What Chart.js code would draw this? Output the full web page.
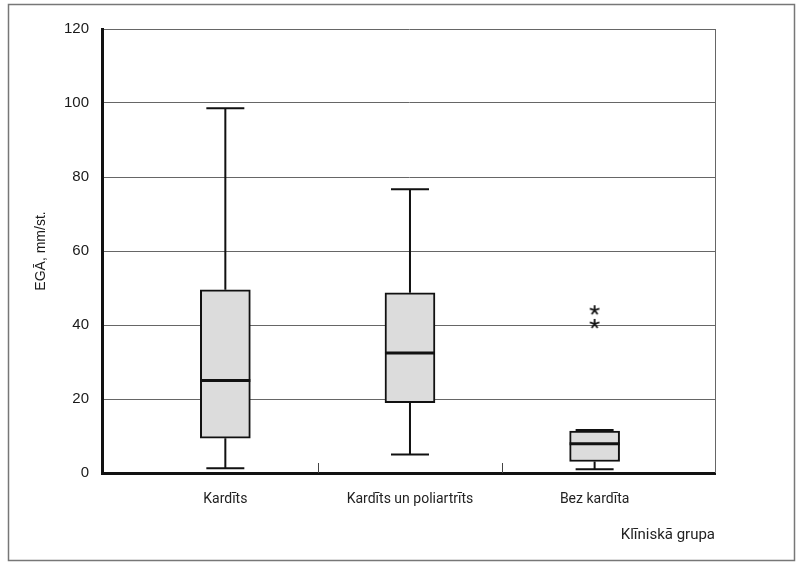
<!DOCTYPE html>
<html>
<head>
<meta charset="utf-8">
<script src="https://cdn.jsdelivr.net/npm/chart.js@4.4.1/dist/chart.umd.min.js"></script>
<style>
  html, body { margin: 0; padding: 0; background: #fff; }
  #wrap { width: 800px; height: 563px; }
</style>
</head>
<body>
<div id="wrap"><canvas id="boxChart" width="800" height="563"></canvas></div>
<script>
// data
const categories = ["Kardīts", "Kardīts un poliartrīts", "Bez kardīta"];
const whiskerLow = [1.3, 5, 1];
const q1 = [9.4, 19, 3.1];
const median = [25, 32.4, 7.9];
const q3 = [49.5, 48.7, 11.3];
const whiskerHigh = [98.6, 76.7, 11.6];
const outlierGroup = [3, 3];
const outlierValue = [44, 40.3];
const yTicks = [0, 20, 40, 60, 80, 100, 120];

// asterisk marker for outliers
function makeAsterisk() {
  const c = document.createElement("canvas");
  c.width = 14; c.height = 14;
  const g = c.getContext("2d");
  g.strokeStyle = "#111";
  g.lineWidth = 1.8;
  for (let i = 0; i < 5; i++) {
    const a = -Math.PI / 2 + i * 2 * Math.PI / 5;
    g.beginPath();
    g.moveTo(7, 7);
    g.lineTo(7 + Math.cos(a) * 5, 7 + Math.sin(a) * 5);
    g.stroke();
  }
  return c;
}

// whiskers, caps, medians, tick marks and frame
const boxExtras = {
  id: "boxExtras",
  beforeDraw(chart) {
    const ctx = chart.ctx;
    ctx.save();
    ctx.strokeStyle = "#777";
    ctx.lineWidth = 1.5;
    ctx.strokeRect(8.5, 4.5, 786, 556);
    ctx.restore();
  },
  afterDatasetsDraw(chart) {
    const ctx = chart.ctx;
    const x = chart.scales.x, y = chart.scales.y;
    const area = chart.chartArea;
    ctx.save();
    // right border of plot
    ctx.strokeStyle = "#666";
    ctx.lineWidth = 1;
    ctx.beginPath();
    ctx.moveTo(Math.round(area.right) + 0.5, area.top);
    ctx.lineTo(Math.round(area.right) + 0.5, area.bottom);
    ctx.stroke();
    // small tick marks between groups
    ctx.strokeStyle = "#444";
    [1.5, 2.5].forEach(v => {
      const px = Math.round(x.getPixelForValue(v)) + 0.5;
      ctx.beginPath();
      ctx.moveTo(px, area.bottom);
      ctx.lineTo(px, area.bottom - 10);
      ctx.stroke();
    });
    ctx.strokeStyle = "#111";
    categories.forEach((c, i) => {
      const cx = x.getPixelForValue(i + 1);
      const capHalf = 19;
      ctx.lineWidth = 2;
      ctx.beginPath();
      ctx.moveTo(cx, y.getPixelForValue(q3[i]));
      ctx.lineTo(cx, y.getPixelForValue(whiskerHigh[i]));
      ctx.moveTo(cx, y.getPixelForValue(q1[i]));
      ctx.lineTo(cx, y.getPixelForValue(whiskerLow[i]));
      ctx.moveTo(cx - capHalf, y.getPixelForValue(whiskerHigh[i]));
      ctx.lineTo(cx + capHalf, y.getPixelForValue(whiskerHigh[i]));
      ctx.moveTo(cx - capHalf, y.getPixelForValue(whiskerLow[i]));
      ctx.lineTo(cx + capHalf, y.getPixelForValue(whiskerLow[i]));
      ctx.stroke();
      ctx.lineWidth = 3;
      ctx.beginPath();
      ctx.moveTo(cx - 25, y.getPixelForValue(median[i]));
      ctx.lineTo(cx + 25, y.getPixelForValue(median[i]));
      ctx.stroke();
    });
    ctx.restore();
  }
};

new Chart(document.getElementById("boxChart"), {
  data: {
    datasets: [
      {
        type: "bar",
        data: categories.map((c, i) => ({ x: i + 1, y: [q1[i], q3[i]] })),
        backgroundColor: "#dcdcdc",
        borderColor: "#111",
        borderWidth: 2,
        borderSkipped: false,
        barThickness: 50
      },
      {
        type: "scatter",
        data: outlierValue.map((v, i) => ({ x: outlierGroup[i], y: v })),
        pointStyle: makeAsterisk(),
        pointRadius: 6
      }
    ]
  },
  options: {
    responsive: false,
    animation: false,
    layout: { padding: { top: 29, right: 85, bottom: 0, left: 0 } },
    plugins: { legend: { display: false }, tooltip: { enabled: false } },
    scales: {
      x: {
        type: "linear",
        offset: false,
        min: 0.332,
        max: 3.652,
        afterBuildTicks: s => { s.ticks = categories.map((c, i) => ({ value: i + 1 })); },
        afterFit: s => { s.height = 90; },
        grid: { display: false, drawTicks: false },
        border: { color: "#111", width: 3 },
        ticks: {
          padding: 18,
          color: "#222",
          maxRotation: 0,
          autoSkip: false,
          font: { family: "Roboto", size: 14 },
          callback: v => categories[v - 1]
        },
        title: {
          display: true,
          text: "Klīniskā grupa",
          align: "end",
          color: "#222",
          font: { family: "Roboto", size: 15 },
          padding: { top: 0, bottom: 19 }
        }
      },
      y: {
        min: 0,
        max: 120,
        afterBuildTicks: s => { s.ticks = yTicks.map(v => ({ value: v })); },
        afterFit: s => { s.width = 102; },
        grid: {
          drawTicks: false,
          color: ctx => ctx.tick.value === 0 ? "rgba(0,0,0,0)" : "#666",
          lineWidth: 1
        },
        border: { color: "#111", width: 3 },
        ticks: {
          padding: 13,
          color: "#1a1a1a",
          font: { family: "Liberation Sans", size: 15 }
        },
        title: {
          display: true,
          text: "EGĀ, mm/st.",
          color: "#1a1a1a",
          font: { family: "'Liberation Sans Narrow', 'Liberation Sans'", size: 14 },
          padding: { top: 33, bottom: 0 }
        }
      }
    }
  },
  plugins: [boxExtras]
});
</script>
</body>
</html>
